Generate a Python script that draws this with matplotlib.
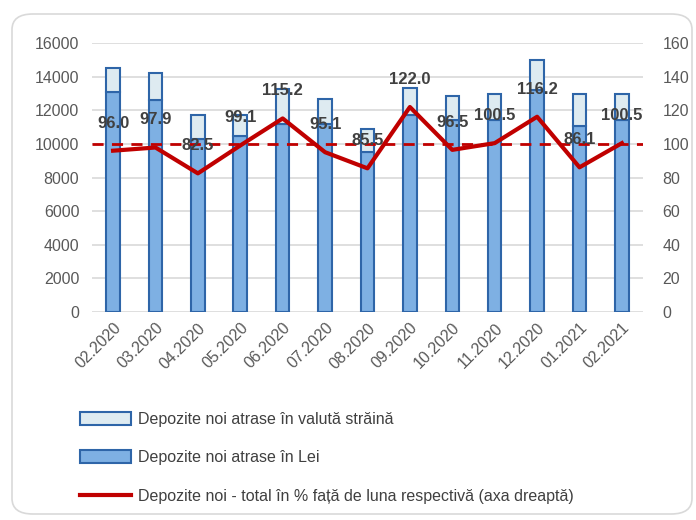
import numpy as np
import matplotlib.pyplot as plt
from matplotlib.patches import FancyBboxPatch
from matplotlib.lines import Line2D
from matplotlib.patches import Patch

plt.rcParams['font.family'] = ['Liberation Sans', 'DejaVu Sans']

months = ['02.2020', '03.2020', '04.2020', '05.2020', '06.2020', '07.2020', '08.2020',
          '09.2020', '10.2020', '11.2020', '12.2020', '01.2021', '02.2021']
# totals (lei + foreign currency)
total = [14500, 14250, 11700, 11700, 13300, 12700, 10900,
         13350, 12850, 13000, 15000, 13000, 13000]
lei = [13100, 12600, 10300, 10450, 11200, 11200, 9550,
       11700, 11400, 11450, 13200, 11050, 11450]
valuta = [t - l for t, l in zip(total, lei)]
pct = [96.0, 97.9, 82.5, 99.1, 115.2, 95.1, 85.5, 122.0, 96.5, 100.5, 116.2, 86.1, 100.5]

gray = '#595959'
edge = '#2E65A8'

fig = plt.figure(figsize=(6.96, 5.2), dpi=100)
fig.patches.append(FancyBboxPatch((12 / 696, 6 / 520), 680 / 696, 500 / 520,
                                  boxstyle='round,pad=0,rounding_size=0.03',
                                  transform=fig.transFigure, fill=False,
                                  ec='#D9D9D9', lw=1.2))

ax = fig.add_axes([0.132, 0.4, 0.792, 0.517])
x = np.arange(len(months))
w = 0.32
ax.bar(x, lei, w, color='#7EB0E3', edgecolor=edge, lw=1.5, zorder=2)
ax.bar(x, valuta, w, bottom=lei, color='#DEEBF1', edgecolor=edge, lw=1.5, zorder=2)
ax.set_ylim(0, 16000)
ax.set_xlim(-0.5, len(months) - 0.5)
ax.set_yticks(np.arange(0, 16001, 2000))
ax.yaxis.grid(True, color='#D9D9D9', lw=1.2, zorder=0)
ax.set_axisbelow(True)
for s in ax.spines.values():
    s.set_visible(False)
ax.tick_params(axis='both', length=0, labelsize=11.5, colors=gray, pad=9)
ax.set_xticks(x)
ax.set_xticklabels(months, rotation=45, ha='right', rotation_mode='anchor')
ax.tick_params(axis='x', pad=6)

ax2 = ax.twinx()
ax2.set_ylim(0, 160)
ax2.set_yticks(np.arange(0, 161, 20))
for s in ax2.spines.values():
    s.set_visible(False)
ax2.tick_params(axis='y', length=0, labelsize=11.5, colors=gray, pad=14)
ax2.axhline(100, color='#C00000', lw=2, ls=(0, (4, 3)), zorder=3)
ax2.plot(x, pct, color='#C00000', lw=3, zorder=4)
for xi, v in zip(x, pct):
    ax2.text(xi, v + 12, f'{v:.1f}', ha='center', va='bottom', fontsize=12,
             fontweight='bold', color='#404040', zorder=5)

handles = [Patch(facecolor='#DEEBF1', edgecolor=edge, lw=1.5),
           Patch(facecolor='#7EB0E3', edgecolor=edge, lw=1.5),
           Line2D([0], [0], color='#C00000', lw=3)]
labels = ['Depozite noi atrase în valută străină',
          'Depozite noi atrase în Lei',
          'Depozite noi - total în % față de luna respectivă (axa dreaptă)']
fig.legend(handles, labels, loc='lower left', bbox_to_anchor=(66 / 696, 2 / 520),
           frameon=False, fontsize=11.5, labelcolor='#404040', handlelength=3.2,
           handleheight=0.9, labelspacing=1.45, handletextpad=0.4)

fig.savefig('out.png', dpi=100)
